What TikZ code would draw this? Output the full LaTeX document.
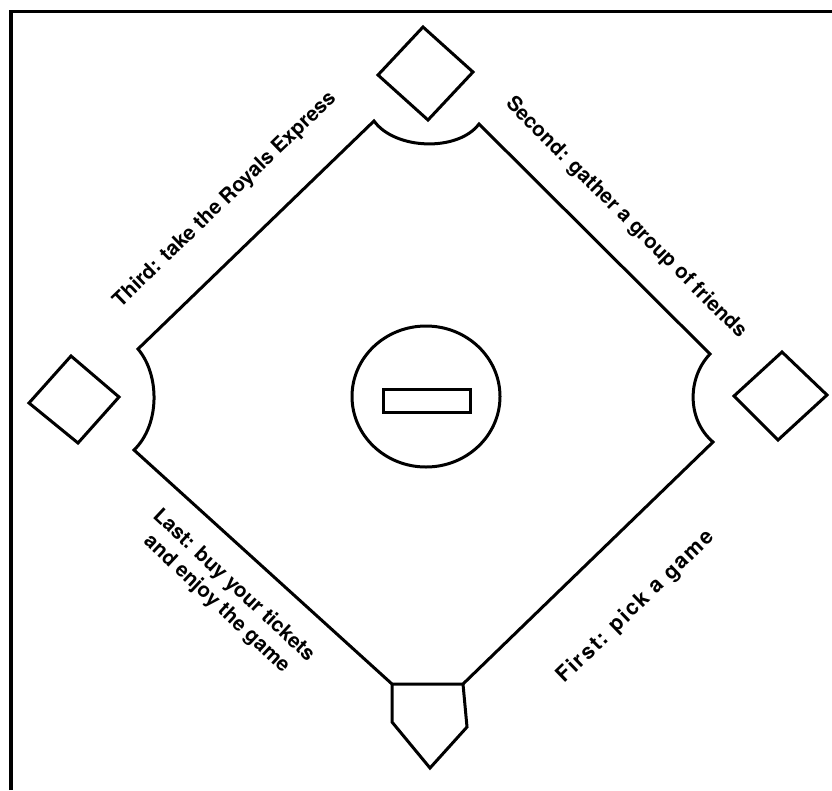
\documentclass[tikz,border=0pt]{standalone}
\usepackage{fontspec}
\setmainfont{TeX Gyre Heros}
\begin{document}
\begin{tikzpicture}[x=1pt,y=-1pt,line join=miter,
  fieldline/.style={line width=3pt},
  baseshape/.style={line width=3pt},
  lbl/.style={font=\bfseries\fontsize{20.5}{25}\selectfont,inner sep=0pt,align=center}]
\useasboundingbox (0,0) rectangle (832,790);
% frame
\draw[line width=3.5pt] (11,790) -- (11,11.5) -- (832,11.5);
% field corners
\coordinate (hl) at (392,684);
\coordinate (hr) at (463,684);
\coordinate (lb) at (134,450);
\coordinate (lt) at (138,349);
\coordinate (tl) at (374,121);
\coordinate (tr) at (479,124);
\coordinate (rt) at (710,354);
\coordinate (rb) at (713,442);
\draw[fieldline] (hr) -- (hl) -- (lb) .. controls (160,425) and (160,375) .. (lt) -- (tl)
  .. controls (395,150) and (458,152) .. (tr) -- (rt)
  .. controls (687,378) and (687,420) .. (rb) -- cycle;
% home plate
\coordinate (pll) at (392,722);
\coordinate (pb) at (430,768);
\coordinate (plr) at (467,727);
\draw[fieldline] (hl) -- (pll) -- (pb) -- (plr) -- (hr);
% bases
\draw[baseshape] (378,75) -- (423,27) -- (473,72) -- (428,120) -- cycle;
\draw[baseshape] (29,403) -- (71,356) -- (119,397) -- (78,443) -- cycle;
\draw[baseshape] (734,396) -- (782,352) -- (827,395) -- (778,440) -- cycle;
% mound
\draw[fieldline] (426,396.5) ellipse [x radius=74, y radius=70.5];
\draw[fieldline] (383,389) rectangle (470,412);
% labels
\node[lbl,rotate=44] (third) at (225,200) {Third: take the Royals Express};
\node[lbl,rotate=-45] (second) at (626,218) {Second: gather a group of friends};
\node[lbl,rotate=44,font=\bfseries\fontsize{21.5}{25}\selectfont\addfontfeature{LetterSpace=8}] (first) at (636,607) {First: pick a game};
\node[lbl,rotate=-43] (last) at (225,595) {Last: buy your tickets\\and enjoy the game};
\end{tikzpicture}
\end{document}
